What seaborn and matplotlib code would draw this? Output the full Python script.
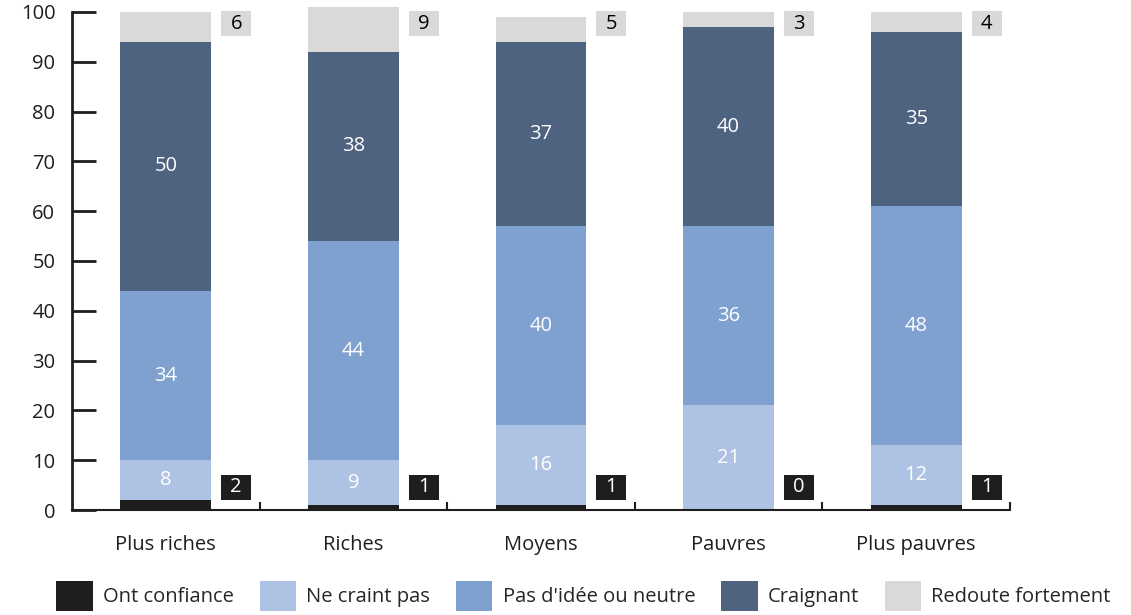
import matplotlib
matplotlib.use("Agg")
import matplotlib.pyplot as plt
from matplotlib.patches import Rectangle, Patch
import seaborn as sns
import numpy as np
import pandas as pd

# Survey shares (%) per income group
categories = ["Plus riches", "Riches", "Moyens", "Pauvres", "Plus pauvres"]
series_names = ["Ont confiance", "Ne craint pas", "Pas d'idée ou neutre",
                "Craignant", "Redoute fortement"]
ont_confiance = [2, 1, 1, 0, 1]
ne_craint_pas = [8, 9, 16, 21, 12]
pas_d_idee = [34, 44, 40, 36, 48]
craignant = [50, 38, 37, 40, 35]
redoute = [6, 9, 5, 3, 4]
y_ticks = [0, 10, 20, 30, 40, 50, 60, 70, 80, 90, 100]

colors = ["#1e1e1e", "#aec3e3", "#7ea1cf", "#4d6380", "#d9d9d9"]
label_colors = ["white", "white", "white", "white", "black"]
FS = 14.5

sns.set_theme(style="white")
plt.rcParams["font.family"] = ["Open Sans", "DejaVu Sans"]

series = [ont_confiance, ne_craint_pas, pas_d_idee, craignant, redoute]
values = np.array(series, dtype=float)
cum = np.cumsum(values, axis=0)

fig = plt.figure(figsize=(11.31, 6.15), dpi=100)
ax = fig.add_axes([72 / 1131, 105 / 615, 938 / 1131, 508 / 615])

bar_w = 0.485
# stacked bars: draw cumulative totals from the top layer down
for i in range(len(series) - 1, -1, -1):
    df = pd.DataFrame({"cat": categories, "val": cum[i]})
    sns.barplot(data=df, x="cat", y="val", color=colors[i], width=bar_w,
                saturation=1, ax=ax, linewidth=0, edgecolor="none")

# value labels inside the three middle segments
for i in (1, 2, 3):
    for j in range(len(categories)):
        bottom = cum[i - 1][j]
        mid = bottom + values[i][j] / 2
        ax.text(j, mid, f"{int(values[i][j])}", ha="center", va="center",
                color="white", fontsize=FS)

# boxed labels beside the bars for the thin end segments
box_dx = bar_w / 2 + 0.053
box_w = 0.16
box_h = 5.0
for j in range(len(categories)):
    for i, yc in ((0, 4.6), (4, 97.6)):
        x0 = j + box_dx
        ax.add_patch(Rectangle((x0, yc - box_h / 2), box_w, box_h,
                               facecolor=colors[i], edgecolor="none",
                               clip_on=False, zorder=3))
        ax.text(x0 + box_w / 2, yc, f"{int(values[i][j])}", ha="center",
                va="center", color=label_colors[i], fontsize=FS, zorder=4)

ax.set_xlim(-0.5, len(categories) - 0.5)
ax.set_ylim(0, 102)
ax.set_xlabel("")
ax.set_ylabel("")

ax.set_yticks(y_ticks)
ax.set_yticklabels([str(t) for t in y_ticks], fontsize=FS, color="#1e1e1e")
ax.tick_params(axis="y", direction="in", length=17, width=2, color="#1e1e1e",
               pad=12, left=True)

ax.set_xticks(range(len(categories)))
ax.set_xticklabels(categories, fontsize=FS, color="#1e1e1e")
ax.tick_params(axis="x", which="major", length=0, pad=18)
ax.set_xticks(np.arange(0.5, len(categories), 1.0), minor=True)
ax.tick_params(axis="x", which="minor", direction="in", length=6, width=1.5,
               color="#1e1e1e", bottom=True)

for side in ("top", "right"):
    ax.spines[side].set_visible(False)
ax.spines["left"].set_bounds(0, 100)
ax.spines["left"].set_linewidth(2)
ax.spines["left"].set_color("#1e1e1e")
ax.spines["bottom"].set_linewidth(1.5)
ax.spines["bottom"].set_color("#1e1e1e")

handles = [Patch(facecolor=c, edgecolor="none") for c in colors]
fig.legend(handles, series_names, loc="center", bbox_to_anchor=(0.516, 0.031),
           ncol=5, frameon=False, fontsize=FS, handlelength=1.8,
           handleheight=1.85, handletextpad=0.5, columnspacing=1.3,
           borderaxespad=0)

fig.savefig("out.png", dpi=100)
